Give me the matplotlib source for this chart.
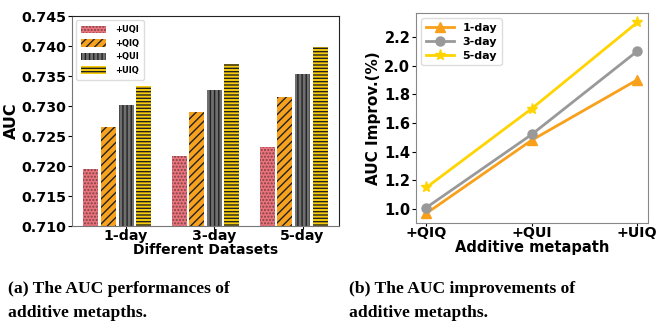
"""
Draw AUC of additive metapaths (bars) and AUC improvement (lines)
"""
import matplotlib
matplotlib.use('Agg')
import matplotlib.pyplot as plt
import numpy as np

# data
datasets = ['1-day', '3-day', '5-day']
metapaths = ['+UQI', '+QIQ', '+QUI', '+UIQ']
auc_uqi = [0.7195, 0.7217, 0.7232]
auc_qiq = [0.7265, 0.7290, 0.7315]
auc_qui = [0.7302, 0.7327, 0.7353]
auc_uiq = [0.7333, 0.7370, 0.7398]

improv_steps = ['+QIQ', '+QUI', '+UIQ']
improv_1day = [0.97, 1.48, 1.90]
improv_3day = [1.01, 1.52, 2.10]
improv_5day = [1.15, 1.70, 2.30]

plt.rcParams['font.family'] = 'DejaVu Sans'
plt.rcParams['font.weight'] = 'bold'
plt.rcParams['hatch.linewidth'] = 1.0


def draw_bars(ax):
    x = np.arange(len(datasets))
    step = 0.2
    width = 0.17
    series = [auc_uqi, auc_qiq, auc_qui, auc_uiq]
    faces = ['#ec737d', '#f7a21e', '#6f6f6f', '#f6cc0c']
    hatch_cols = ['#7a4545', '#222222', '#222222', '#222222']
    hatches = ['.....', '////', '||||', '-----']
    for i, vals in enumerate(series):
        ax.bar(x + i * step, vals, width, color=faces[i], edgecolor=hatch_cols[i],
               hatch=hatches[i], linewidth=0, label=metapaths[i])
    ax.set_ylim(0.710, 0.745)
    ax.set_xlim(-0.215, 2.81)
    ticks = np.arange(0.710, 0.7451, 0.005)
    ax.set_yticks(ticks)
    ax.set_yticklabels(['%.3f' % v for v in ticks])
    ax.set_xticks(x + 2 * step)
    ax.set_xticklabels(datasets)
    ax.tick_params(axis='y', labelsize=10.3, length=3, pad=1)
    ax.tick_params(axis='x', labelsize=10.2, length=2, pad=0)
    ax.set_ylabel('AUC', fontsize=11.5, fontweight='bold', labelpad=2)
    ax.set_xlabel('Different Datasets', fontsize=10, fontweight='bold', labelpad=0)
    for s in ['top', 'right']:
        ax.spines[s].set_color('#222222')
    for s in ['left', 'bottom']:
        ax.spines[s].set_color('#777777')
    ax.legend(loc='upper left', fontsize=6, handlelength=3.0, handleheight=1.0,
              borderpad=0.6, labelspacing=0.55, handletextpad=1.1, framealpha=1,
              edgecolor='#dddddd')


def draw_lines(ax):
    x = np.arange(len(improv_steps))
    ax.plot(x, improv_1day, color='#f9a01b', marker='^', lw=2, ms=7, label='1-day')
    ax.plot(x, improv_3day, color='#999999', marker='o', lw=2, ms=6.5, label='3-day')
    ax.plot(x, improv_5day, color='#ffd400', marker='*', lw=2, ms=8, label='5-day')
    ax.set_xticks(x)
    ax.set_xticklabels(improv_steps)
    ax.set_yticks([1.0, 1.2, 1.4, 1.6, 1.8, 2.0, 2.2])
    ax.tick_params(axis='y', labelsize=10.5, length=3, pad=1)
    ax.tick_params(axis='x', labelsize=10.3, length=2, pad=0)
    ax.set_ylabel('AUC Improv.(%)', fontsize=11, fontweight='bold', labelpad=2)
    ax.set_xlabel('Additive metapath', fontsize=10.5, fontweight='bold', labelpad=0)
    for s in ax.spines.values():
        s.set_color('#888888')
    ax.legend(loc='upper left', fontsize=8, handlelength=2.5, borderpad=0.4,
              labelspacing=0.35, framealpha=1, edgecolor='#dddddd')


fig = plt.figure(figsize=(6.59, 3.23), dpi=100)
ax1 = fig.add_axes([0.109, 0.300, 0.405, 0.650])
ax2 = fig.add_axes([0.631, 0.310, 0.352, 0.650])
draw_bars(ax1)
draw_lines(ax2)

# captions, two lines each
cap_font = dict(fontsize=12.6, fontweight='bold', family='Liberation Serif',
                va='baseline', ha='left')
fig.text(8 / 659, 1 - 293 / 323, '(a) The AUC performances of', **cap_font)
fig.text(8 / 659, 1 - 317 / 323, 'additive metapths.', **cap_font)
fig.text(349 / 659, 1 - 293 / 323, '(b) The AUC improvements of', **cap_font)
fig.text(349 / 659, 1 - 317 / 323, 'additive metapths.', **cap_font)

fig.savefig('out.png', dpi=100)
